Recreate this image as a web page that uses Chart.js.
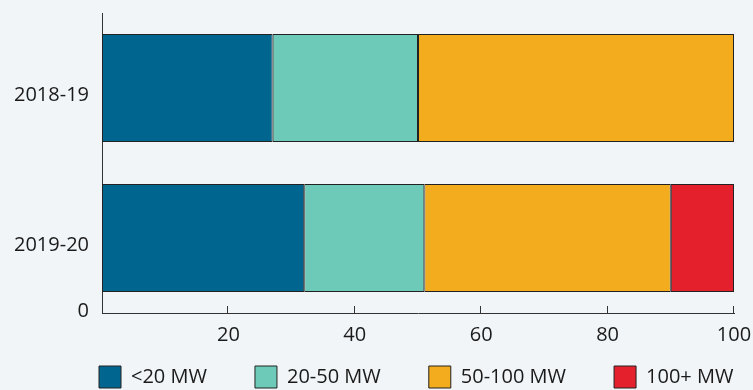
<!DOCTYPE html>
<html>
<head>
<meta charset="utf-8">
<script src="https://cdn.jsdelivr.net/npm/chart.js@4.4.1/dist/chart.umd.min.js"></script>
<style>
html, body { margin: 0; padding: 0; background: #f1f5f8; overflow: hidden; }
#wrap { width: 753px; height: 390px; position: relative; }
</style>
</head>
<body>
<div id="wrap"><canvas id="chart_mwShare"></canvas></div>
<script>
// share of capacity by project size, per year
var years = ['2018-19', '2019-20'];
var seriesNames = ['<20 MW', '20-50 MW', '50-100 MW', '100+ MW'];
var under20 = [27, 32];
var from20to50 = [23, 19];
var from50to100 = [50, 39];
var over100 = [null, 10];
var originLabel = '0';

var seriesColours = ['#00668f', '#6dcab8', '#f2ac1e', '#e3202c'];
var seriesValues = [under20, from20to50, from50to100, over100];

Chart.defaults.font.family = "'Open Sans', sans-serif";
Chart.defaults.font.size = 20;
Chart.defaults.color = '#1a1a1a';

var axisExtras = {
    id: 'axisExtras',
    afterLayout: function (chart) {
        // put the legend row under the axis, first box lined up with the y axis
        var lg = chart.legend, pad = lg.options.labels.padding, area = chart.chartArea;
        var dx = area.left - 3 - pad - lg.left;
        lg.left += dx; lg.right += dx;
        lg.top = area.bottom + 53 - pad;
        lg.bottom = chart.height;
        lg.height = lg.bottom - lg.top;
    },
    afterDraw: function (chart) {
        var ctx = chart.ctx, xs = chart.scales.x, area = chart.chartArea;
        ctx.save();
        ctx.strokeStyle = '#333';
        ctx.lineWidth = 1;
        xs.ticks.forEach(function (t) {
            if (t.value === 0) return;
            var px = Math.round(xs.getPixelForValue(t.value)) - 0.5;
            ctx.beginPath();
            ctx.moveTo(px, area.bottom - 7);
            ctx.lineTo(px, area.bottom);
            ctx.stroke();
        });
        ctx.fillStyle = '#1a1a1a';
        ctx.font = "20px 'Open Sans', sans-serif";
        ctx.textAlign = 'right';
        ctx.textBaseline = 'middle';
        ctx.fillText(originLabel, area.left - 13, area.bottom - 2);
        ctx.restore();
    }
};

var chart_mwShare = new Chart(document.getElementById('chart_mwShare'), {
    type: 'bar',
    data: {
        labels: years,
        datasets: seriesNames.map(function (name, i) {
            return {
                label: name,
                data: seriesValues[i],
                backgroundColor: seriesColours[i],
                borderColor: '#222',
                borderWidth: 1,
                borderSkipped: false,
                categoryPercentage: 0.8,
                barPercentage: 0.9
            };
        })
    },
    options: {
        indexAxis: 'y',
        animation: false,
        responsive: true,
        maintainAspectRatio: false,
        layout: {
            padding: { top: 13, right: 19, bottom: 0, left: 0 }
        },
        plugins: {
            legend: {
                position: 'bottom',
                align: 'start',
                maxHeight: 40,
                labels: {
                    boxWidth: 22,
                    boxHeight: 22,
                    padding: 48,
                    color: '#1a1a1a',
                    font: { size: 20 }
                }
            },
            tooltip: { enabled: false }
        },
        scales: {
            x: {
                stacked: true,
                min: 0,
                max: 100,
                grid: { display: false, drawTicks: true, tickLength: 10 },
                border: { display: true, color: '#333', width: 1 },
                ticks: {
                    stepSize: 20,
                    padding: 0,
                    color: '#1a1a1a',
                    callback: function (v) { return v === 0 ? '' : v; }
                },
                afterFit: function (s) { s.height = 37; }
            },
            y: {
                stacked: true,
                grid: { display: false, drawTicks: true, tickLength: 13 },
                border: { display: true, color: '#333', width: 1 },
                ticks: { padding: 0, labelOffset: 7, color: '#1a1a1a' },
                afterFit: function (s) { s.width = 102; }
            }
        }
    },
    plugins: [axisExtras]
});
</script>
</body>
</html>
